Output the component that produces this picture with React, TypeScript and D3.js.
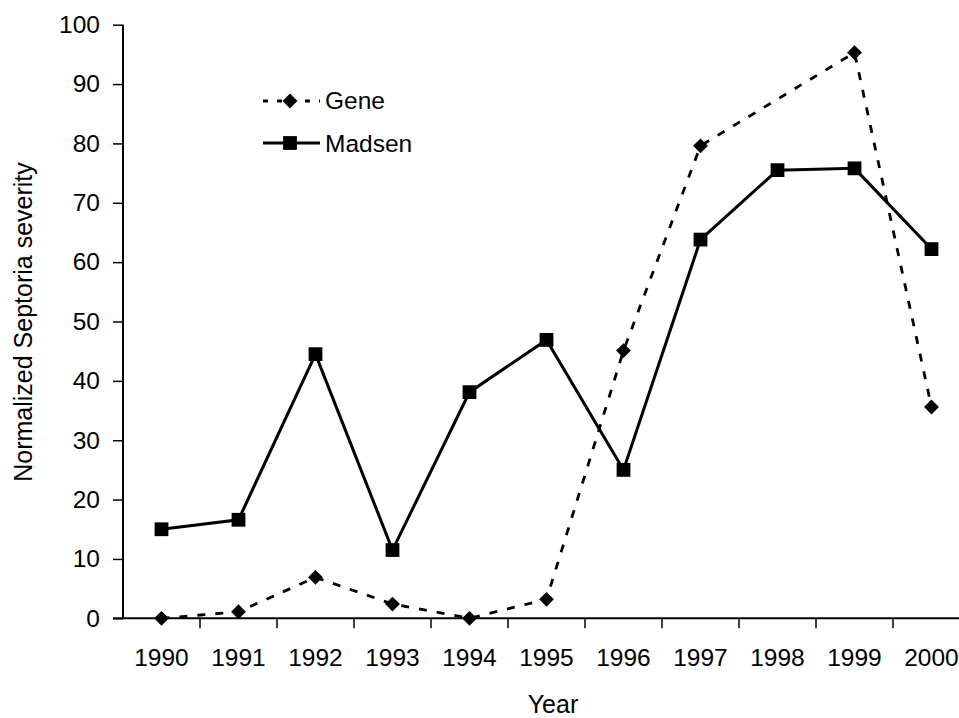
import { useEffect, useRef } from 'react'
import * as d3 from 'd3'

const W = 959
const H = 718
const years = ['1990', '1991', '1992', '1993', '1994', '1995', '1996', '1997', '1998', '1999', '2000']
const geneValues: (number | null)[] = [0, 1.1, 6.9, 2.4, 0, 3.2, 45.1, 79.6, null, 95.3, 35.6]
const madsenValues = [15.0, 16.6, 44.5, 11.5, 38.1, 46.9, 25.0, 63.8, 75.5, 75.8, 62.2]
const yTicks = [0, 10, 20, 30, 40, 50, 60, 70, 80, 90, 100]

const FONT = 'Liberation Sans, Arial, sans-serif'

export default function App() {
  const svgRef = useRef<SVGSVGElement>(null)

  useEffect(() => {
    if (!svgRef.current) return
    const svg = d3.select(svgRef.current)
    svg.selectAll('*').remove()

    const x = d3.scaleBand<string>().domain(years).range([123, 123 + 11 * 77]).padding(0)
    const y = d3.scaleLinear().domain([0, 100]).range([618.3, 24.7])
    const cx = (yr: string) => (x(yr) as number) + x.bandwidth() / 2

    // y axis
    const yAxis = svg.append('g').attr('transform', 'translate(123,0)')
      .call(d3.axisLeft(y).tickValues(yTicks).tickSize(10).tickPadding(13))
    yAxis.select('.domain').attr('stroke', '#000').attr('stroke-width', 2).attr('d', `M0,${y(100)}V${y(0)}`)
    yAxis.selectAll('.tick line').attr('stroke', '#000').attr('stroke-width', 1.5)
    yAxis.selectAll('.tick text').attr('font-size', 24.5).attr('font-family', FONT).attr('fill', '#000')

    // x axis, ticks sit between the years
    const xg = svg.append('g').attr('transform', `translate(0,${y(0)})`)
    xg.append('line').attr('x1', 113).attr('x2', W).attr('stroke', '#000').attr('stroke-width', 2)
    years.slice(1).forEach(yr => {
      xg.append('line').attr('x1', x(yr) as number).attr('x2', x(yr) as number)
        .attr('y1', 0).attr('y2', 10).attr('stroke', '#000').attr('stroke-width', 1.5)
    })
    years.forEach(yr => {
      xg.append('text').attr('x', cx(yr)).attr('y', 48).attr('text-anchor', 'middle')
        .attr('font-size', 24.5).attr('font-family', FONT).text(yr)
    })

    // axis titles
    svg.append('text').attr('x', 553).attr('y', 713).attr('text-anchor', 'middle')
      .attr('font-size', 25).attr('font-family', FONT).text('Year')
    svg.append('text').attr('transform', 'translate(32,322) rotate(-90)').attr('text-anchor', 'middle')
      .attr('font-size', 25).attr('font-family', FONT).text('Normalized Septoria severity')

    const line = d3.line<[string, number]>().x(d => cx(d[0])).y(d => y(d[1]))
    const genePts = years.map((yr, i) => [yr, geneValues[i]] as [string, number | null])
      .filter(d => d[1] !== null) as [string, number][]
    const madsenPts = years.map((yr, i) => [yr, madsenValues[i]] as [string, number])

    const diamond = d3.symbol(d3.symbolSquare, 110)()
    const square = d3.symbol(d3.symbolSquare, 190)()

    svg.append('path').attr('d', line(genePts)).attr('fill', 'none').attr('stroke', '#000')
      .attr('stroke-width', 2.8).attr('stroke-dasharray', '8,10')
    svg.append('path').attr('d', line(madsenPts)).attr('fill', 'none').attr('stroke', '#000')
      .attr('stroke-width', 3)

    svg.append('g').selectAll('path').data(genePts).enter().append('path')
      .attr('d', diamond).attr('transform', d => `translate(${cx(d[0])},${y(d[1])}) rotate(45)`)
      .attr('fill', '#000')
    svg.append('g').selectAll('path').data(madsenPts).enter().append('path')
      .attr('d', square).attr('transform', d => `translate(${cx(d[0])},${y(d[1])})`)
      .attr('fill', '#000')

    // legend
    const lg = svg.append('g')
    lg.append('line').attr('x1', 263).attr('x2', 320).attr('y1', 101).attr('y2', 101)
      .attr('stroke', '#000').attr('stroke-width', 2.8).attr('stroke-dasharray', '5,9')
    lg.append('path').attr('d', diamond).attr('transform', 'translate(290,101) rotate(45)')
    lg.append('text').attr('x', 325).attr('y', 109).attr('font-size', 24.5).attr('font-family', FONT).text('Gene')
    lg.append('line').attr('x1', 263).attr('x2', 320).attr('y1', 143).attr('y2', 143)
      .attr('stroke', '#000').attr('stroke-width', 3)
    lg.append('path').attr('d', square).attr('transform', 'translate(290,143)')
    lg.append('text').attr('x', 325).attr('y', 152).attr('font-size', 24.5).attr('font-family', FONT).text('Madsen')
  }, [])

  return (
    <div style={{ position: 'absolute', left: 0, top: 0 }}>
      <svg ref={svgRef} width={W} height={H} style={{ display: 'block', background: '#fff' }} />
    </div>
  )
}
